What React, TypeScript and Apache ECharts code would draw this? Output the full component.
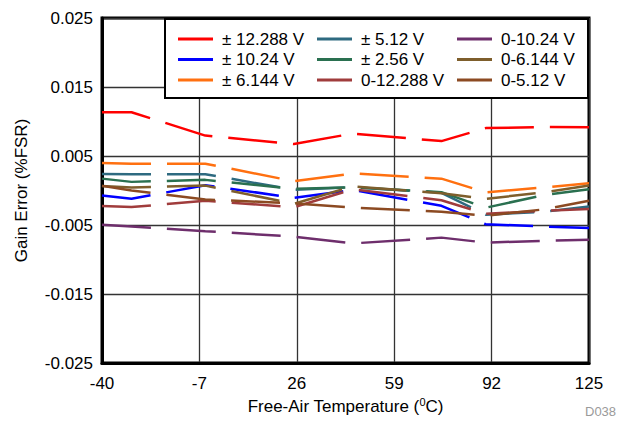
import React, { useEffect, useRef } from "react";
import * as echarts from "echarts";

const temps = [-40, -30, -5, 25, 45, 75, 90, 110, 125];
const xTicks = [-40, -7, 26, 59, 92, 125];
const yTicks = [-0.025, -0.015, -0.005, 0.005, 0.015, 0.025];

const names = [
  "± 12.288 V",
  "± 10.24 V",
  "± 6.144 V",
  "± 5.12 V",
  "± 2.56 V",
  "0-12.288 V",
  "0-10.24 V",
  "0-6.144 V",
  "0-5.12 V",
];
const colors = [
  "#FF0000",
  "#0000FF",
  "#FF7010",
  "#2E6A80",
  "#2A7050",
  "#A03C3C",
  "#6E2E6C",
  "#7E5E2C",
  "#8C4A22",
];

const pm12288 = [0.01135, 0.01135, 0.00796, 0.00673, 0.00825, 0.00716, 0.00904, 0.00921, 0.00918];
const pm1024 = [-0.00073, -0.0012, 0.00077, -0.00106, 0.00009, -0.00222, -0.00488, -0.00522, -0.00543];
const pm6144 = [0.00399, 0.00389, 0.00389, 0.00135, 0.00247, 0.00172, -0.00027, 0.00045, 0.00106];
const pm512 = [0.0024, 0.00236, 0.00236, 0.0001, 0.00048, -0.00034, -0.00351, -0.00308, -0.00232];
const pm256 = [0.00172, 0.00125, 0.00154, 0.00024, 0.00048, -0.00024, -0.0025, -0.00063, 0.00019];
const u12288 = [-0.00226, -0.0024, -0.00149, -0.00243, 0.00017, -0.00142, -0.00337, -0.00294, -0.00269];
const u1024 = [-0.00496, -0.0052, -0.00589, -0.00669, -0.00767, -0.00683, -0.00755, -0.00729, -0.00712];
const u6144 = [0.00067, 0.00045, 0.00071, -0.00193, 0.0006, -0.00041, -0.0012, -0.00027, 0.00071];
const u512 = [0.00067, 0.0, -0.00131, -0.00185, -0.00247, -0.00308, -0.00366, -0.00272, -0.00149];

const seriesValues = [pm12288, pm1024, pm6144, pm512, pm256, u12288, u1024, u6144, u512];

const FONT = "'Liberation Sans', Arial, Helvetica, sans-serif";

export default function App() {
  const ref = useRef<HTMLDivElement>(null);
  useEffect(() => {
    if (!ref.current) return;
    const chart = echarts.init(ref.current, undefined, { renderer: "svg" });
    const legendCol = (data: string[], left: number) => ({
      orient: "vertical",
      left,
      top: 29,
      padding: 0,
      itemGap: 0.5,
      itemWidth: 35,
      itemHeight: 3,
      icon: "rect",
      z: 10,
      data,
      textStyle: {
        fontFamily: FONT,
        fontSize: 17,
        color: "#000",
        lineHeight: 20,
        padding: [0, 0, 0, 4],
      },
    });
    chart.setOption({
      animation: false,
      backgroundColor: "#fff",
      grid: {
        left: 102,
        right: 53,
        top: 18,
        bottom: 69,
        show: true,
        borderColor: "#000",
        borderWidth: 3,
      },
      xAxis: {
        type: "value",
        min: xTicks[0],
        max: xTicks[xTicks.length - 1],
        interval: xTicks[1] - xTicks[0],
        name: "{n|Free-Air Temperature (}{s|0}{n|C)}",
        nameLocation: "middle",
        nameGap: 33,
        nameTextStyle: {
          rich: {
            n: { fontFamily: FONT, fontSize: 17, color: "#000" },
            s: { fontFamily: FONT, fontSize: 11, color: "#000", verticalAlign: "top", padding: [0, 0, 8, 0] },
          },
        },
        axisLine: { show: true, onZero: false, lineStyle: { color: "#000", width: 3 } },
        axisTick: { show: false },
        axisLabel: { fontFamily: FONT, fontSize: 17, color: "#000", margin: 12 },
        splitLine: { show: true, lineStyle: { color: "#333", width: 1.3 } },
      },
      yAxis: {
        type: "value",
        min: yTicks[0],
        max: yTicks[yTicks.length - 1],
        interval: yTicks[1] - yTicks[0],
        name: "Gain Error (%FSR)",
        nameLocation: "middle",
        nameGap: 72,
        nameTextStyle: { fontFamily: FONT, fontSize: 17, color: "#000" },
        axisLine: { show: true, onZero: false, lineStyle: { color: "#000", width: 3 } },
        axisTick: { show: false },
        axisLabel: {
          fontFamily: FONT,
          fontSize: 17,
          color: "#000",
          margin: 9,
          formatter: (v: number) => v.toFixed(3),
        },
        splitLine: { show: true, lineStyle: { color: "#333", width: 1.3 } },
      },
      legend: [
        legendCol(names.slice(0, 3), 178),
        legendCol(names.slice(3, 6), 317),
        legendCol(names.slice(6, 9), 457),
      ],
      graphic: [
        {
          type: "rect",
          z: 5,
          shape: { x: 165, y: 19, width: 423, height: 79 },
          style: { fill: "#fff", stroke: "#000", lineWidth: 2 },
        },
        {
          type: "text",
          z: 5,
          x: 585,
          y: 405,
          style: { text: "D038", fontFamily: FONT, fontSize: 13, fill: "#9a9a9a" },
        },
      ],
      series: names.map((n, i) => ({
        name: n,
        type: "line",
        symbol: "none",
        color: colors[i],
        data: temps.map((t, j) => [t, seriesValues[i][j]]),
        lineStyle: { color: colors[i], width: 2.5, type: [49, 16], cap: "butt" },
        z: 3,
      })),
    });
    return () => chart.dispose();
  }, []);
  return (
    <div
      ref={ref}
      style={{ position: "fixed", left: 0, top: 0, width: 642, height: 432 }}
    />
  );
}
